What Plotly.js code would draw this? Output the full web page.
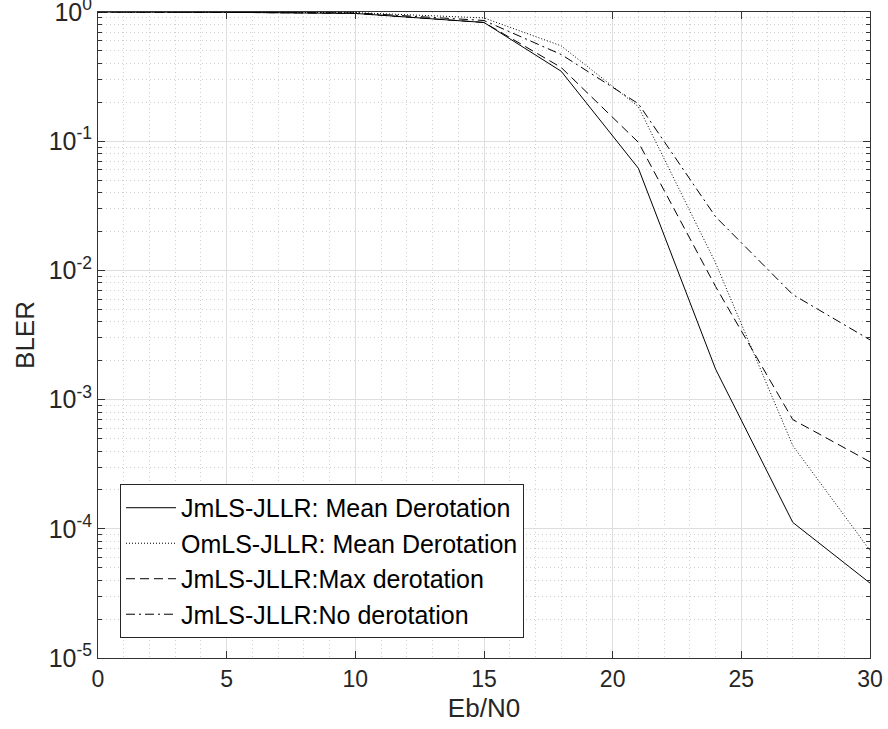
<!DOCTYPE html>
<html>
<head>
<meta charset="utf-8">
<script src="https://cdn.plot.ly/plotly-3.0.1.min.js"></script>
<style>html,body{margin:0;padding:0;background:#fff;}#chart{width:888px;height:729px;}</style>
</head>
<body>
<div id="chart"></div>
<script>
const ebn0 = [0, 5, 10, 15, 18, 21, 24, 27, 30];
const jmlsMean = [1.0, 0.995, 0.975, 0.83, 0.348, 0.0617, 0.00172, 1.12e-4, 3.8e-5];
const omlsMean = [1.0, 0.998, 0.99, 0.90, 0.547, 0.185, 0.0114, 4.4e-4, 6.8e-5];
const jmlsMax = [1.0, 0.995, 0.975, 0.83, 0.372, 0.098, 0.0075, 7.0e-4, 3.3e-4];
const jmlsNo = [1.0, 0.997, 0.985, 0.86, 0.469, 0.195, 0.026, 0.0065, 0.0029];
const seriesNames = ["JmLS-JLLR: Mean Derotation", "OmLS-JLLR: Mean Derotation", "JmLS-JLLR:Max derotation", "JmLS-JLLR:No derotation"];
const yTickVals = [1e-5, 1e-4, 1e-3, 1e-2, 1e-1, 1];
const yTickText = ["10<sup>-5</sup>", "10<sup>-4</sup>", "10<sup>-3</sup>", "10<sup>-2</sup>", "10<sup>-1</sup>", "10<sup>0</sup>"];
const xTickVals = [0, 5, 10, 15, 20, 25, 30];

const font = "Liberation Sans, Arial, Helvetica, sans-serif";
const dashes = ["solid", "1px,2px", "9px,5px", "9px,4px,2px,4px"];
const ys = [jmlsMean, omlsMean, jmlsMax, jmlsNo];
const traces = ys.map((y, i) => ({
  x: ebn0, y: y, type: "scatter", mode: "lines", name: seriesNames[i],
  line: {color: "#000", width: 1, dash: dashes[i]}
}));

const layout = {
  width: 888, height: 729,
  margin: {l: 98, r: 18, t: 12, b: 71},
  paper_bgcolor: "#fff", plot_bgcolor: "#fff",
  font: {family: font, color: "#000"},
  showlegend: true,
  legend: {
    x: 0.0285, y: 0.031, xanchor: "left", yanchor: "bottom",
    bgcolor: "#fff", bordercolor: "#262626", borderwidth: 1,
    itemwidth: 50,
    font: {family: font, size: 25, color: "#000"}
  },
  xaxis: {
    range: [0, 30], tickvals: xTickVals, ticks: "inside", ticklen: 7, tickcolor: "#333",
    showline: true, linecolor: "#333", linewidth: 1, mirror: "ticks",
    showgrid: true, gridcolor: "#dedede", gridwidth: 1, zeroline: false,
    ticklabeloverflow: "allow",
    tickfont: {family: font, size: 23, color: "#262626"},
    title: {text: "Eb/N0", font: {family: font, size: 26, color: "#262626"}, standoff: 8},
    minor: {dtick: 1, showgrid: true, gridcolor: "#d0d0d0", griddash: "1px,3px", gridwidth: 1}
  },
  yaxis: {
    type: "log", range: [-5.0001, 0.0001], tickvals: yTickVals, ticktext: yTickText,
    ticks: "inside", ticklen: 7, tickcolor: "#333",
    showline: true, linecolor: "#333", linewidth: 1, mirror: "ticks",
    showgrid: true, gridcolor: "#dedede", gridwidth: 1, zeroline: false,
    ticklabeloverflow: "allow",
    tickfont: {family: font, size: 25, color: "#262626"},
    title: {text: "BLER", font: {family: font, size: 26, color: "#262626"}, standoff: 6},
    minor: {dtick: "D1", ticks: "inside", ticklen: 4, tickcolor: "#333", showgrid: true, gridcolor: "#d0d0d0", griddash: "1px,3px", gridwidth: 1}
  }
};

Plotly.newPlot("chart", traces, layout, {displayModeBar: false, staticPlot: true});
</script>
</body>
</html>
